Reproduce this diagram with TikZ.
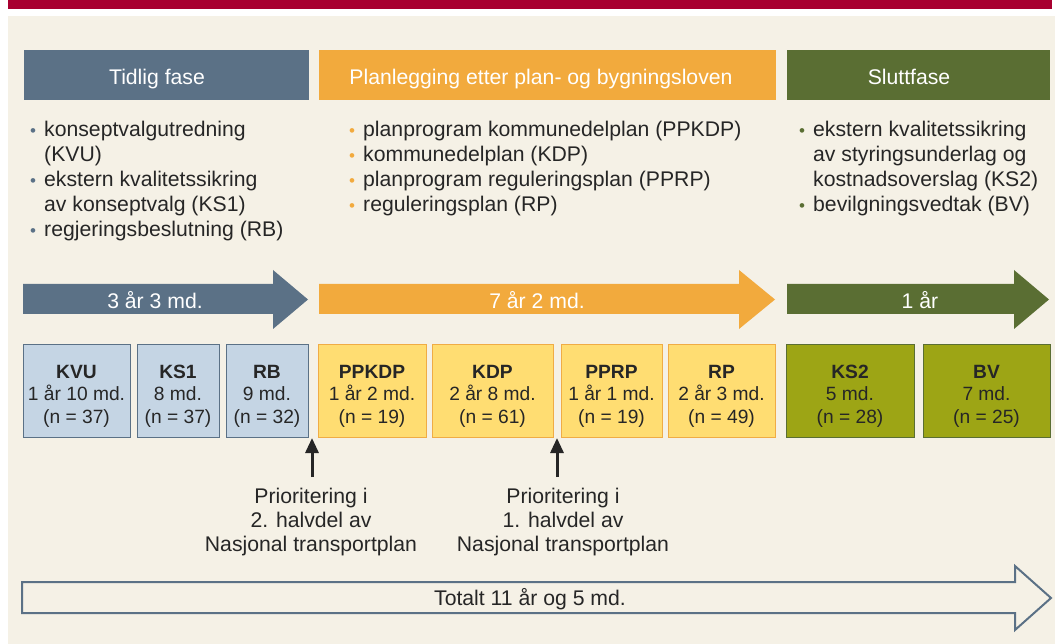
\documentclass[tikz,border=0pt]{standalone}
\usepackage{fontspec}
\setmainfont{Liberation Sans}
\usetikzlibrary{arrows.meta}
\definecolor{bgbeige}{HTML}{F5F1E6}
\definecolor{topred}{HTML}{A80030}
\definecolor{slate}{HTML}{5B7186}
\definecolor{orng}{HTML}{F2AA3D}
\definecolor{olivegreen}{HTML}{5A6E33}
\definecolor{lightblue}{HTML}{C5D5E4}
\definecolor{lightyellow}{HTML}{FFDD72}
\definecolor{yborder}{HTML}{F0AC45}
\definecolor{olivefill}{HTML}{9DA515}
\definecolor{txt}{HTML}{262626}
\newcommand{\bigfont}{\fontsize{21.2}{25}\selectfont}
\newcommand{\lblfont}{\fontsize{21.2}{24}\selectfont}
\newcommand{\boxfont}{\fontsize{19.2}{22.5}\selectfont}
\newcommand{\bitem}[1]{\makebox[14pt][l]{\textcolor{#1}{\fontsize{17}{17}\selectfont\textbullet}}}
\newcommand{\bcont}{\hspace*{14pt}}
\begin{document}
\begin{tikzpicture}[x=1pt,y=-1pt,
  header/.style={minimum height=50pt, inner sep=0, text=white, font=\bigfont},
  phasebox/.style={minimum height=92pt, inner sep=0, align=center, font=\boxfont, text=txt, line width=1pt},
  bluebox/.style={phasebox, fill=lightblue, draw=slate},
  yellowbox/.style={phasebox, fill=lightyellow, draw=yborder},
  greenbox/.style={phasebox, fill=olivefill, draw=olivegreen},
  bullets/.style={anchor=north west, inner sep=0, align=left, font=\bigfont, text=txt},
  arrlabel/.style={text=white, font=\bigfont, inner sep=0},
  htext/.style={text=white, font=\bigfont, inner sep=0, anchor=base},
  prio/.style={align=center, font=\lblfont, text=txt, inner sep=0},
  uparrow/.style={line width=3pt, draw=txt, -{Triangle[length=15pt,width=13pt]}}
]
\useasboundingbox (0,0) rectangle (1055,644);
\fill[white] (0,0) rectangle (1055,644);
\fill[topred] (8,0) rectangle (1052,9);
\fill[bgbeige] (8,16) rectangle (1055,644);

% headers
\node[header, fill=slate, minimum width=285pt] (h1) at (166.5,75) {};
\node[header, fill=orng, minimum width=457pt] (h2) at (547.5,75) {};
\node[header, fill=olivegreen, minimum width=263pt] (h3) at (918.5,75) {};
\node[htext] (h1t) at (157,84.5) {Tidlig fase};
\node[htext] (h2t) at (541,84.5) {Planlegging etter plan- og bygningsloven};
\node[htext] (h3t) at (909,84.5) {Sluttfase};

% bullet lists
\node[bullets] (b1) at (30,121) {\bitem{slate}konseptvalgutredning\\
\bcont(KVU)\\
\bitem{slate}ekstern kvalitetssikring\\
\bcont av konseptvalg (KS1)\\
\bitem{slate}regjeringsbeslutning (RB)};
\node[bullets] (b2) at (349,121) {\bitem{orng}planprogram kommunedelplan (PPKDP)\\
\bitem{orng}kommunedelplan (KDP)\\
\bitem{orng}planprogram reguleringsplan (PPRP)\\
\bitem{orng}reguleringsplan (RP)};
\node[bullets] (b3) at (799,121) {\bitem{olivegreen}ekstern kvalitetssikring\\
\bcont av styringsunderlag og\\
\bcont kostnadsoverslag (KS2)\\
\bitem{olivegreen}bevilgningsvedtak (BV)};

% phase arrows
\fill[slate] (23,284) -- (273,284) -- (273,270) -- (308,299.5) -- (273,329) -- (273,314) -- (23,314) -- cycle;
\fill[orng] (319,284) -- (739,284) -- (739,270) -- (775,299.5) -- (739,329) -- (739,314) -- (319,314) -- cycle;
\fill[olivegreen] (787,284) -- (1014,284) -- (1014,270) -- (1049,299.5) -- (1014,329) -- (1014,314) -- (787,314) -- cycle;
\node[arrlabel] (d1) at (155,300) {3 år 3 md.};
\node[arrlabel] (d2) at (537,300) {7 år 2 md.};
\node[arrlabel] (d3) at (920,300) {1 år};

% boxes
\node[bluebox, minimum width=107pt] (kvu) at (76.5,391) {};
\node[bluebox, minimum width=82pt] (ks1) at (178,391) {};
\node[bluebox, minimum width=82pt] (rb) at (267,391) {};
\node[yellowbox, minimum width=108pt] (ppkdp) at (372,391) {};
\node[yellowbox, minimum width=121pt] (kdp) at (492.5,391) {};
\node[yellowbox, minimum width=101pt] (pprp) at (611.5,391) {};
\node[yellowbox, minimum width=107pt] (rp) at (721.5,391) {};
\node[greenbox, minimum width=128pt] (ks2) at (850,391) {};
\node[greenbox, minimum width=127pt] (bv) at (986.5,391) {};
\foreach \n/\a/\b/\c in {kvu/KVU/1 år 10 md./37, ks1/KS1/8 md./37, rb/RB/9 md./32,
  ppkdp/PPKDP/1 år 2 md./19, kdp/KDP/2 år 8 md./61, pprp/PPRP/1 år 1 md./19, rp/RP/2 år 3 md./49,
  ks2/KS2/5 md./28, bv/BV/7 md./25}
  \node[align=center, font=\boxfont, text=txt, inner sep=0] (\n t) at ([yshift=-5pt]\n.center) {\textbf{\a}\\\b\\(n = \c)};

% priority arrows and labels
\coordinate (a1s) at (312,477);
\coordinate (a1e) at (312,438);
\coordinate (a2s) at (557,477);
\coordinate (a2e) at (557,438);
\draw[uparrow] (a1s) -- (a1e);
\draw[uparrow] (a2s) -- (a2e);
\node[prio] (p1) at (311,522) {Prioritering i\\2. halvdel av\\Nasjonal transportplan};
\node[prio] (p2) at (563,522) {Prioritering i\\1. halvdel av\\Nasjonal transportplan};

% total arrow
\draw[slate, line width=2pt, fill=bgbeige, line join=miter] (22,582) -- (1015,582) -- (1015,566) -- (1051,598) -- (1015,630) -- (1015,613) -- (22,613) -- cycle;
\node[text=txt, font=\bigfont, inner sep=0] (tot) at (530,599) {Totalt 11 år og 5 md.};
\end{tikzpicture}
\end{document}
